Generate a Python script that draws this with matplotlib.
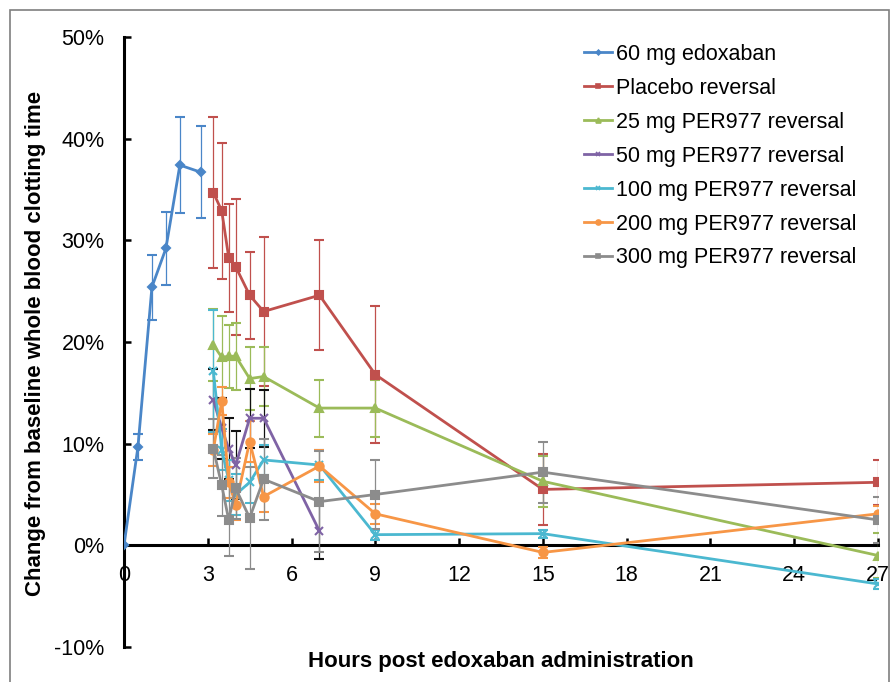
import matplotlib
matplotlib.use("Agg")
import matplotlib.pyplot as plt
from matplotlib.patches import Rectangle
from matplotlib.lines import Line2D
from matplotlib.ticker import FuncFormatter

plt.rcParams['font.family'] = ['Liberation Sans', 'DejaVu Sans']

# hours post dose
t_edox = [0, 0.5, 1, 1.5, 2, 2.75]
t_rev = [3.2, 3.5, 3.75, 4, 4.5, 5, 7, 9, 15, 27]
t_50 = [3.2, 3.5, 3.75, 4, 4.5, 5, 7]

# % change from baseline whole blood clotting time (mean, error)
edox = [0, 9.7, 25.4, 29.2, 37.4, 36.7]
edox_err = [0, 1.3, 3.2, 3.6, 4.7, 4.5]

placebo = [34.7, 32.9, 28.3, 27.4, 24.6, 23.0, 24.6, 16.8, 5.5, 6.2]
placebo_err = [7.4, 6.7, 5.3, 6.7, 4.3, 7.3, 5.4, 6.7, 3.5, 2.2]

per25 = [19.7, 18.5, 18.6, 18.6, 16.4, 16.6, 13.5, 13.5, 6.3, -1.0]
per25_err = [3.5, 4.1, 3.1, 3.3, 3.1, 2.9, 2.8, 2.8, 2.5, 2.2]

per50 = [14.3, 11.5, 9.5, 7.9, 12.5, 12.5, 1.4]
per50_err = [3.0, 3.0, 3.0, 3.3, 2.9, 2.8, 2.7]

per100 = [17.1, 9.4, 6.4, 5.0, 6.2, 8.4, 7.9, 1.05, 1.15, -3.8]
per100_err = [6.0, 2.0, 2.0, 2.0, 2.0, 1.5, 1.5, 0.5, 0.4, 0.5]

per200 = [9.4, 14.2, 6.2, 4.0, 10.2, 4.8, 7.8, 3.1, -0.7, 3.1]
per200_err = [1.6, 1.4, 1.5, 1.5, 2.0, 1.5, 1.6, 1.0, 0.5, 0.8]

per300 = [9.5, 5.9, 2.5, 5.6, 2.7, 6.5, 4.3, 5.0, 7.2, 2.5]
per300_err = [2.9, 3.0, 3.5, 3.0, 5.0, 4.0, 5.0, 3.4, 3.0, 2.3]

series = [
    ("60 mg edoxaban", t_edox, edox, edox_err, "#4a86c8", "#4a86c8", "D", 4),
    ("Placebo reversal", t_rev, placebo, placebo_err, "#c0504d", "#c0504d", "s", 6),
    ("25 mg PER977 reversal", t_rev, per25, per25_err, "#9bbb59", "#9bbb59", "^", 6),
    ("50 mg PER977 reversal", t_50, per50, per50_err, "#7f63a5", "#111111", "x", 6),
    ("100 mg PER977 reversal", t_rev, per100, per100_err, "#4bb8d0", "#4bb8d0", "x", 6),
    ("200 mg PER977 reversal", t_rev, per200, per200_err, "#f79646", "#f79646", "o", 6),
    ("300 mg PER977 reversal", t_rev, per300, per300_err, "#8c8c8c", "#8c8c8c", "s", 6),
]

W, H = 893, 682
fig = plt.figure(figsize=(W / 100, H / 100), dpi=100)
ax = fig.add_axes([124 / W, 1 - 647 / H, (878 - 124) / W, (647 - 37) / H])

handles = []
for name, x, y, e, col, ecol, mk, ms in series:
    ax.errorbar(x, y, yerr=e, color=col, ecolor=ecol, elinewidth=0.9, capsize=3.8,
                capthick=0.9, lw=2.0, marker=mk, ms=ms, mew=1.5, mfc=col, mec=col,
                zorder=3)
    handles.append(Line2D([], [], color=col, lw=2.0, marker=mk, ms=ms * 0.6,
                          mew=1.2, mfc=col, mec=col, label=name))

ax.set_xlim(0, 27)
ax.set_ylim(-10, 50)
ax.set_xticks(range(0, 28, 3))
ax.set_yticks(range(-10, 51, 10))
ax.yaxis.set_major_formatter(FuncFormatter(lambda v, p: f"{int(v)}%"))

ax.spines['top'].set_visible(False)
ax.spines['right'].set_visible(False)
ax.spines['bottom'].set_position(('data', 0))
ax.spines['bottom'].set_linewidth(2.2)
ax.spines['left'].set_linewidth(2.2)
ax.tick_params(axis='x', direction='in', length=5, width=1.8, labelsize=15.5, pad=14)
ax.tick_params(axis='y', direction='in', length=5, width=1.8, labelsize=15.5, pad=14)

fig.text(501 / W, 1 - 662 / H, "Hours post edoxaban administration", ha='center',
         va='center', fontsize=16, fontweight='bold')
fig.text(36 / W, 1 - 343 / H, "Change from baseline whole blood clotting time",
         ha='center', va='center', rotation=90, fontsize=16, fontweight='bold')

ax.legend(handles=handles, loc='upper left', bbox_to_anchor=(584 / W, 1 - 44 / H),
          bbox_transform=fig.transFigure, frameon=False, fontsize=15.5,
          handlelength=1.3, handletextpad=0.2, labelspacing=0.6,
          borderpad=0, borderaxespad=0)

fig.patches.append(Rectangle((10 / W, -0.1), 879 / W, 1.1 - 10 / H,
                             transform=fig.transFigure, fill=False,
                             edgecolor='#7f7f7f', lw=1.2))

fig.savefig("out.png", dpi=100)
